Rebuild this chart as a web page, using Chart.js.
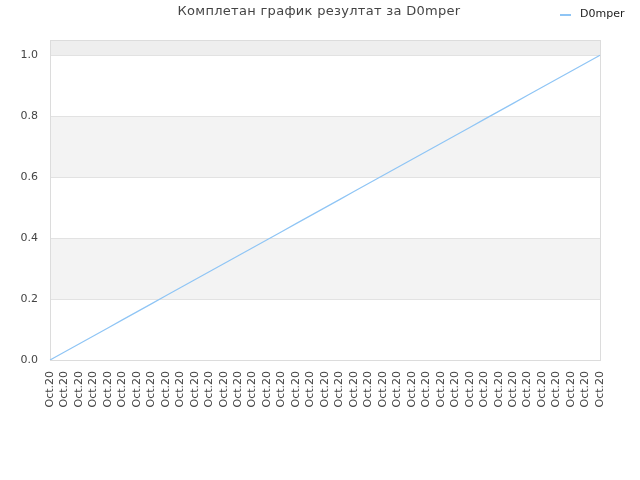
<!DOCTYPE html>
<html>
<head>
<meta charset="utf-8">
<script src="https://cdn.jsdelivr.net/npm/chart.js@4/dist/chart.umd.min.js"></script>
<style>
  html, body { margin: 0; padding: 0; background: #fff; }
  #wrap { width: 640px; height: 480px; }
</style>
</head>
<body>
<div id="wrap"><canvas id="chart" width="640" height="480"></canvas></div>
<script>
// ---- data ----
const chartTitle = 'Комплетан график резултат за D0mper';
const seriesName = 'D0mper';
const dateLabels = [
    'Oct.20', 'Oct.20', 'Oct.20', 'Oct.20', 'Oct.20', 'Oct.20', 'Oct.20', 'Oct.20',
    'Oct.20', 'Oct.20', 'Oct.20', 'Oct.20', 'Oct.20', 'Oct.20', 'Oct.20', 'Oct.20',
    'Oct.20', 'Oct.20', 'Oct.20', 'Oct.20', 'Oct.20', 'Oct.20', 'Oct.20', 'Oct.20',
    'Oct.20', 'Oct.20', 'Oct.20', 'Oct.20', 'Oct.20', 'Oct.20', 'Oct.20', 'Oct.20',
    'Oct.20', 'Oct.20', 'Oct.20', 'Oct.20', 'Oct.20', 'Oct.20', 'Oct.20'
];
const scores = [
    0.0000, 0.0263, 0.0526, 0.0789, 0.1053, 0.1316, 0.1579, 0.1842, 0.2105, 0.2368,
    0.2632, 0.2895, 0.3158, 0.3421, 0.3684, 0.3947, 0.4211, 0.4474, 0.4737, 0.5000,
    0.5263, 0.5526, 0.5789, 0.6053, 0.6316, 0.6579, 0.6842, 0.7105, 0.7368, 0.7632,
    0.7895, 0.8158, 0.8421, 0.8684, 0.8947, 0.9211, 0.9474, 0.9737, 1.0000
];
const yTicks = [0, 0.2, 0.4, 0.6, 0.8, 1.0];
const yMax = 1.05;

const LINE_COLOR = '#8fc5f5';
const FONT = 'DejaVu Sans';

// alternating bands + frame behind the line
const bandsPlugin = {
    id: 'bands',
    beforeDatasetsDraw(chart) {
        const { ctx, chartArea: a, scales: { y } } = chart;
        ctx.save();
        const edges = yTicks.concat([yMax]);
        for (let i = 0; i < edges.length - 1; i++) {
            const top = y.getPixelForValue(edges[i + 1]);
            const bot = y.getPixelForValue(edges[i]);
            let fill = null;
            if (i === edges.length - 2) fill = '#eeeeee';
            else if (i % 2 === 1) fill = '#f3f3f3';
            if (fill) {
                ctx.fillStyle = fill;
                ctx.fillRect(a.left, top, a.right - a.left, bot - top);
            }
        }
        // horizontal grid lines
        ctx.strokeStyle = '#e2e2e2';
        ctx.lineWidth = 1;
        yTicks.forEach(v => {
            const py = Math.round(y.getPixelForValue(v)) + 0.5;
            ctx.beginPath();
            ctx.moveTo(a.left, py);
            ctx.lineTo(a.right, py);
            ctx.stroke();
        });
        // frame
        ctx.strokeStyle = '#dcdcdc';
        ctx.strokeRect(Math.round(a.left) + 0.5, Math.round(a.top) + 0.5,
            Math.round(a.right - a.left), Math.round(a.bottom - a.top));
        ctx.restore();
    }
};

// title and legend placed like the original
const headerPlugin = {
    id: 'header',
    afterDraw(chart) {
        const { ctx } = chart;
        ctx.save();
        ctx.fillStyle = '#444';
        ctx.font = '13px ' + FONT;
        ctx.letterSpacing = '0.3px';
        ctx.textAlign = 'center';
        ctx.textBaseline = 'middle';
        ctx.fillText(chartTitle, 319, 12);
        ctx.letterSpacing = '0px';

        ctx.strokeStyle = LINE_COLOR;
        ctx.lineWidth = 2;
        ctx.beginPath();
        ctx.moveTo(560, 15);
        ctx.lineTo(571, 15);
        ctx.stroke();

        ctx.fillStyle = '#222';
        ctx.font = '11px ' + FONT;
        ctx.textAlign = 'left';
        ctx.fillText(chart.data.datasets[0].label, 580, 14);
        ctx.restore();
    }
};

new Chart(document.getElementById('chart'), {
    type: 'line',
    data: {
        labels: dateLabels,
        datasets: [{
            label: seriesName,
            data: scores,
            borderColor: LINE_COLOR,
            borderWidth: 1.2,
            pointRadius: 0,
            tension: 0,
            fill: false
        }]
    },
    options: {
        responsive: false,
        animation: false,
        devicePixelRatio: 1,
        layout: { padding: { top: 40, right: 40, left: 0, bottom: 0 } },
        plugins: {
            legend: { display: false },
            title: { display: false },
            tooltip: { enabled: false }
        },
        scales: {
            x: {
                offset: false,
                grid: { display: false, drawTicks: false },
                border: { display: false },
                ticks: {
                    autoSkip: false,
                    minRotation: 90,
                    maxRotation: 90,
                    padding: 11,
                    color: '#444',
                    font: { family: FONT, size: 11 }
                },
                afterFit: s => { s.height = 120; }
            },
            y: {
                min: 0,
                max: yMax,
                grid: { display: false, drawTicks: false },
                border: { display: false },
                ticks: {
                    stepSize: 0.2,
                    includeBounds: false,
                    padding: 12,
                    color: '#444',
                    font: { family: FONT, size: 11 },
                    callback: v => Number(v).toFixed(1)
                },
                afterFit: s => { s.width = 50; }
            }
        }
    },
    plugins: [bandsPlugin, headerPlugin]
});
</script>
</body>
</html>
